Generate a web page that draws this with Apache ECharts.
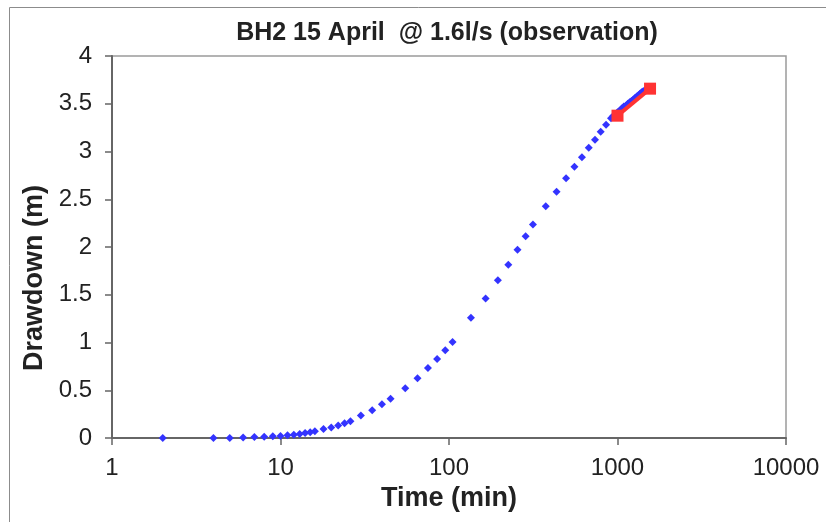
<!DOCTYPE html>
<html>
<head>
<meta charset="utf-8">
<script src="https://cdn.jsdelivr.net/npm/echarts@6/dist/echarts.min.js"></script>
<style>
  html, body { margin: 0; padding: 0; background: #fff; }
  #main { width: 826px; height: 522px; }
</style>
</head>
<body>
<div id="main"></div>
<script>
// observed drawdown (blue diamonds)
let obsTime = [2, 4, 5, 6, 7, 8, 9, 10, 11, 12, 13, 14, 15, 16, 18, 20, 22, 24, 26,
    30, 35, 40, 45, 55, 65, 75, 85, 95, 105, 135, 165, 195, 225, 255, 285, 315,
    375, 435, 495, 555, 615, 675, 735, 795, 855, 915,
    940, 970, 1000, 1030, 1060, 1090, 1120, 1150, 1180, 1210, 1240, 1270,
    1300, 1330, 1360, 1390, 1420, 1450, 1480, 1500];
let obsDrawdown = [0, 0, 0, 0.005, 0.01, 0.012, 0.018, 0.022, 0.028, 0.035, 0.042, 0.052, 0.06, 0.07, 0.094, 0.109, 0.13, 0.154, 0.175,
    0.235, 0.29, 0.354, 0.41, 0.52, 0.625, 0.733, 0.828, 0.919, 1.006, 1.258, 1.461, 1.653, 1.814, 1.97, 2.113, 2.235,
    2.428, 2.578, 2.719, 2.841, 2.94, 3.04, 3.124, 3.208, 3.281, 3.348,
    3.37, 3.39, 3.41, 3.43, 3.45, 3.47, 3.48, 3.50, 3.515, 3.53, 3.545, 3.56,
    3.575, 3.59, 3.605, 3.62, 3.63, 3.64, 3.65, 3.655];
// red segment
let fitTime = [1000, 1560];
let fitDrawdown = [3.375, 3.658];
let yTicks = [0, 0.5, 1, 1.5, 2, 2.5, 3, 3.5, 4];

function pairs(xs, ys) {
    return xs.map((x, i) => [x, ys[i]]);
}

let myChart = echarts.init(document.getElementById('main'));
let font = 'Liberation Sans, Arial, sans-serif';
let ink = '#222';

let option = {
    backgroundColor: '#fff',
    animation: false,
    textStyle: { fontFamily: font },
    title: {
        text: 'BH2 15 April  @ 1.6l/s (observation)',
        left: 442,
        textAlign: 'center',
        top: 16,
        textStyle: { fontSize: 25, fontWeight: 'bold', color: ink, fontFamily: font }
    },
    graphic: [{
        type: 'rect',
        shape: { x: 9.5, y: 7.5, width: 900, height: 600 },
        style: { fill: 'none', stroke: '#8c8c8c', lineWidth: 1 },
        silent: true
    }],
    grid: {
        left: 112, right: 40, top: 56, bottom: 84,
        show: true, borderColor: '#9a9a9a', borderWidth: 1.5, backgroundColor: '#fff'
    },
    xAxis: {
        type: 'log',
        logBase: 10,
        min: 1,
        max: 10000,
        name: 'Time (min)',
        nameLocation: 'middle',
        nameGap: 45,
        nameTextStyle: { fontSize: 27, fontWeight: 'bold', color: ink, fontFamily: font },
        axisLine: { lineStyle: { color: '#666', width: 2 } },
        axisTick: { inside: false, length: 7, lineStyle: { color: '#666', width: 1.5 } },
        minorTick: { show: false },
        splitLine: { show: false },
        axisLabel: {
            fontSize: 24, color: ink, margin: 18, fontFamily: font,
            formatter: v => String(Math.round(v))
        }
    },
    yAxis: {
        type: 'value',
        min: 0,
        max: 4,
        interval: 0.5,
        name: 'Drawdown (m)',
        nameLocation: 'middle',
        nameGap: 60,
        nameRotate: 90,
        // label sits a little below the middle of the axis, as in the original
        nameTextStyle: { fontSize: 27, fontWeight: 'bold', color: ink, fontFamily: font, padding: [0, 62, 0, 0] },
        axisLine: { show: true, lineStyle: { color: '#666', width: 2 } },
        axisTick: { show: true, inside: false, length: 7, lineStyle: { color: '#666', width: 1.5 } },
        splitLine: { show: false },
        axisLabel: {
            fontSize: 24, color: ink, margin: 20, fontFamily: font,
            formatter: v => yTicks.indexOf(v) >= 0 ? String(v) : ''
        }
    },
    series: [
        {
            name: 'observed',
            type: 'scatter',
            symbol: 'diamond',
            symbolSize: 8,
            itemStyle: { color: '#3333ff', opacity: 1 },
            data: pairs(obsTime, obsDrawdown),
            z: 2
        },
        {
            name: 'fit',
            type: 'line',
            symbol: 'rect',
            symbolSize: 12,
            showSymbol: true,
            lineStyle: { color: '#ff3333', width: 4 },
            itemStyle: { color: '#ff3333', opacity: 1 },
            data: pairs(fitTime, fitDrawdown),
            z: 3
        }
    ]
};
myChart.setOption(option);
</script>
</body>
</html>
